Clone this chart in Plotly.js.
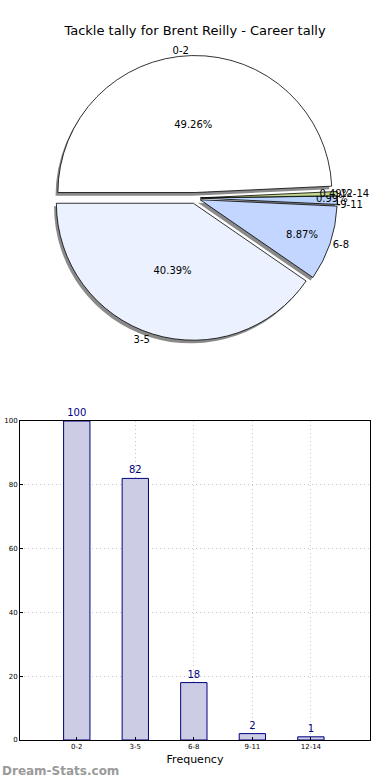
<!DOCTYPE html>
<html>
<head>
<meta charset="utf-8">
<script src="https://cdn.plot.ly/plotly-3.0.1.min.js"></script>
<style>html,body{margin:0;padding:0;background:#fff}#chart{width:390px;height:780px}</style>
</head>
<body>
<div id="chart"></div>
<script>
var categories = ['0-2', '3-5', '6-8', '9-11', '12-14'];
var counts = [100, 82, 18, 2, 1];
var pieColors = ['#ffffff', '#ebf1fe', '#c2d6ff', '#b9d3ff', '#c3d98f'];
var titleText = 'Tackle tally for Brent Reilly - Career tally';

var pull = [0.04, 0.04, 0.04, 0.04, 0.04];
var pieDomain = {x: [0.1346, 0.8654], y: [0.5635, 0.9288]};
var shadowDomain = {x: [0.1346 - 0.006, 0.8654 - 0.006], y: [0.5635 - 0.004, 0.9288 - 0.004]};
var font = 'DejaVu Sans, sans-serif';

var shadow = {
  type: 'pie', labels: categories, values: counts, sort: false,
  direction: 'counterclockwise', rotation: -90, pull: pull,
  domain: shadowDomain, textinfo: 'none', hoverinfo: 'skip',
  marker: {colors: categories.map(function(){return '#8a8a8a';}), line: {width: 0}},
  showlegend: false
};
var main = {
  type: 'pie', labels: categories, values: counts, sort: false,
  direction: 'counterclockwise', rotation: -90, pull: pull,
  domain: pieDomain, textinfo: 'percent', textposition: 'inside',
  insidetextorientation: 'horizontal',
  texttemplate: '%{percent:.2%}',
  textfont: {family: font, size: 10, color: '#000'},
  marker: {colors: pieColors, line: {color: '#000', width: 0.8}},
  showlegend: false
};
var labelsPie = {
  type: 'pie', labels: categories, values: counts, sort: false,
  direction: 'counterclockwise', rotation: -90, pull: pull,
  domain: pieDomain, textinfo: 'label', textposition: 'outside',
  outsidetextfont: {family: font, size: 10, color: '#000'},
  hoverinfo: 'skip',
  marker: {colors: categories.map(function(){return 'rgba(0,0,0,0)';}), line: {width: 0}},
  showlegend: false
};
var bars = {
  type: 'bar', x: categories, y: counts, width: 0.45,
  marker: {color: '#ccccE4', line: {color: '#000080', width: 1}},
  text: counts.map(String), textposition: 'outside', cliponaxis: false,
  textfont: {family: font, size: 10, color: '#000080'},
  xaxis: 'x', yaxis: 'y', showlegend: false, hoverinfo: 'x+y'
};

var layout = {
  width: 390, height: 780,
  margin: {l: 0, r: 0, t: 0, b: 0},
  paper_bgcolor: '#fff', plot_bgcolor: '#fff',
  font: {family: font, color: '#000'},
  title: {text: titleText, x: 0.5, xanchor: 'center', y: 1 - 30/780, yanchor: 'middle',
          font: {family: font, size: 13, color: '#000'}},
  uniformtext: {minsize: 10, mode: 'show'},
  xaxis: {
    domain: [20/390, 370/390], anchor: 'y',
    range: [-0.97, 5.01], type: 'category',
    showline: true, mirror: true, linecolor: '#000', linewidth: 1,
    showgrid: true, gridcolor: '#c8c8c8', griddash: '1px,3px', gridwidth: 1,
    ticks: 'inside', ticklen: 3, tickcolor: '#000',
    tickfont: {family: font, size: 7, color: '#000'},
    title: {text: 'Frequency', font: {family: font, size: 11, color: '#000'}, standoff: 4},
    zeroline: false
  },
  yaxis: {
    domain: [1 - 740/780, 1 - 421/780], anchor: 'x',
    range: [0, 100], tickvals: [0, 20, 40, 60, 80, 100],
    showline: true, mirror: true, linecolor: '#000', linewidth: 1,
    showgrid: true, gridcolor: '#c8c8c8', griddash: '1px,3px', gridwidth: 1,
    ticks: 'inside', ticklen: 3, tickcolor: '#000',
    tickfont: {family: font, size: 7, color: '#000'},
    zeroline: false
  },
  annotations: [{
    text: '<b>Dream-Stats.com</b>', xref: 'paper', yref: 'paper',
    x: 0, y: 1 - 771/780, xanchor: 'left', yanchor: 'middle', showarrow: false,
    font: {family: font, size: 12, color: '#9a9a9a'}
  }]
};

Plotly.newPlot('chart', [shadow, main, labelsPie, bars], layout, {displayModeBar: false, staticPlot: true});
</script>
</body>
</html>
